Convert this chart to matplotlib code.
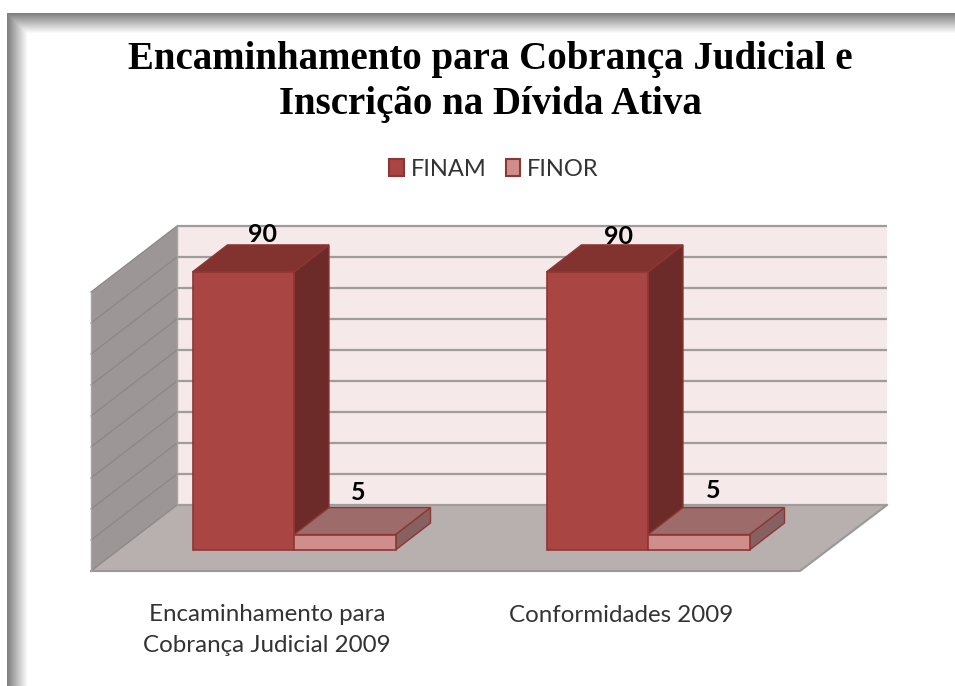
import numpy as np
import matplotlib
matplotlib.use('Agg')
import matplotlib.pyplot as plt
from matplotlib.patches import Polygon, Patch

# data
title = 'Encaminhamento para Cobrança Judicial e\nInscrição na Dívida Ativa'
categories = ['Encaminhamento para\nCobrança Judicial 2009', 'Conformidades 2009']
series_names = ['FINAM', 'FINOR']
finam = [90, 90]
finor = [5, 5]
grid_values = [0, 10, 20, 30, 40, 50, 60, 70, 80, 90]

# colours: front, top, side
finam_cols = ('#A94542', '#823330', '#6C2B28')
finor_cols = ('#CF8E8C', '#9E6B6B', '#866161')
edge_col = '#8E3633'

# projection (pixels)
UNIT = 3.09
BASE_Y = 550
DX, DY = 35, 27
BAR_W = 101.5
BAR_X = [192.5, 546.5]


def val_y(v):
    return BASE_Y - v * UNIT


def draw_bar(ax, x, v, cols):
    top, bot = val_y(v), BASE_Y
    w = BAR_W
    ax.add_patch(Polygon([(x + w, top), (x + w + DX, top - DY), (x + w + DX, bot - DY), (x + w, bot)],
                         fc=cols[2], ec=edge_col, lw=1.0, zorder=5))
    ax.add_patch(Polygon([(x, top), (x + DX, top - DY), (x + w + DX, top - DY), (x + w, top)],
                         fc=cols[1], ec=edge_col, lw=1.0, zorder=5))
    ax.add_patch(Polygon([(x, top), (x + w, top), (x + w, bot), (x, bot)],
                         fc=cols[0], ec=edge_col, lw=1.2, zorder=6))


fig = plt.figure(figsize=(9.55, 6.86), dpi=100)
ax = fig.add_axes([0, 0, 1, 1])
ax.set_xlim(0, 955)
ax.set_ylim(686, 0)
ax.axis('off')

# shadow frame on the left and top
H, W = 686, 955
xx, yy = np.meshgrid(np.arange(W), np.arange(H))
left = np.clip((xx - 7) / 20.0, 0, 1)
upper = np.clip((yy - 13) / 20.0, 0, 1)
img = 0.5 + 0.5 * np.minimum(left, upper)
img[yy < 13] = 1
img[xx < 7] = 1
ax.imshow(img, cmap='gray', vmin=0, vmax=1, extent=(0, W, H, 0), aspect='auto', zorder=0)

# walls
x0, x1 = 91, 177
xr = 887
back_y = BASE_Y - 45
ax.add_patch(Polygon([(x1, 226), (xr, 226), (xr, back_y), (x1, back_y)], fc='#F5E9E9', ec='none', zorder=1))
ax.add_patch(Polygon([(x0, 292), (x1, 226), (x1, back_y), (x0, back_y + 66)], fc='#9C9796', ec='none', zorder=1))
ax.add_patch(Polygon([(x0, back_y + 66), (x1, back_y), (xr, back_y), (xr - 87, back_y + 66)],
                     fc='#B8AFAF', ec='none', zorder=1))

for g in grid_values:
    gy = back_y - g * 31 / 10
    ax.plot([x1, xr], [gy, gy], color='#A09C9B', lw=1.6, zorder=2, solid_capstyle='butt')
    ax.plot([x0, x1], [gy + 66, gy], color='#8A8786', lw=0.9, zorder=2)
ax.plot([x0, xr - 87, xr], [back_y + 66, back_y + 66, back_y], color='#9A9898', lw=1.5, zorder=2)
ax.plot([x0, x0], [292, back_y + 66], color='#A5A3A3', lw=1.0, zorder=2)
ax.plot([x1, x1], [226, back_y], color='#A5A3A3', lw=1.0, zorder=2)

# bars
for i in range(len(categories)):
    draw_bar(ax, BAR_X[i], finam[i], finam_cols)
    draw_bar(ax, BAR_X[i] + BAR_W, finor[i], finor_cols)

# value labels
val_style = dict(ha='center', va='center', fontsize=18, family='Lato', weight='bold', color='black', zorder=7)
ax.text(262, 235, str(finam[0]), **val_style)
ax.text(618, 237, str(finam[1]), **val_style)
ax.text(358, 493, str(finor[0]), **val_style)
ax.text(713, 490, str(finor[1]), **val_style)

# category labels
ax.text(267, 630, categories[0], ha='center', va='center', fontsize=17.4, family='Lato',
        color='#333333', linespacing=1.56)
ax.text(621, 615, categories[1], ha='center', va='center', fontsize=17.4, family='Lato', color='#333333')

# title
ax.text(490, 82, title, ha='center', va='center', fontsize=28, family='Liberation Serif',
        weight='bold', color='black', linespacing=1.28)

# legend
handles = [Patch(fc=finam_cols[0], ec=edge_col, lw=1.5), Patch(fc=finor_cols[0], ec=edge_col, lw=1.5)]
ax.legend(handles, series_names, loc='center', bbox_to_anchor=(494 / 955, 1 - 169 / 686), ncol=2,
          frameon=False, handlelength=0.62, handleheight=0.7, handletextpad=0.3, columnspacing=0.8,
          labelcolor='#333333', prop={'family': 'Lato', 'size': 17})

fig.savefig('out.png', dpi=100)
